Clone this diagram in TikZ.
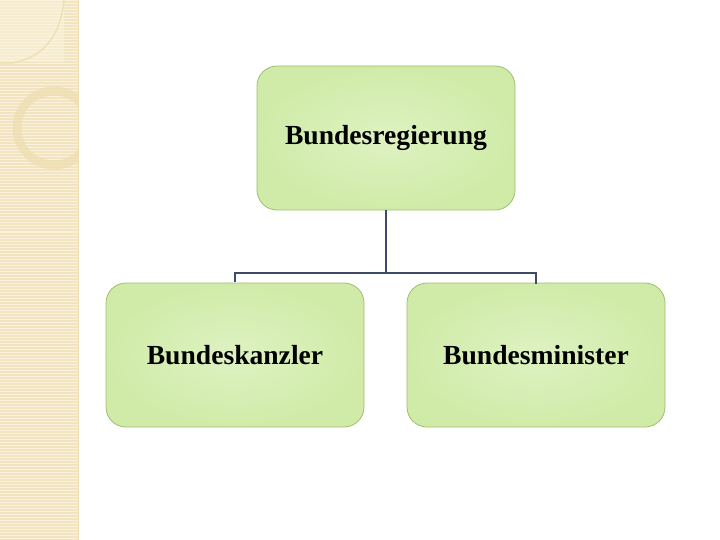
\documentclass[tikz,border=0pt]{standalone}
\usepackage{fontspec}
\setmainfont{Liberation Serif}
\usepackage{tikz}
\usetikzlibrary{positioning}
\definecolor{stripbase}{HTML}{F2E4C0}
\definecolor{stripline}{HTML}{FAF2DC}
\definecolor{stripring}{HTML}{EDDDB0}
\definecolor{boxinner}{HTML}{DEF2C2}
\definecolor{boxouter}{HTML}{D0EBA8}
\definecolor{boxframe}{HTML}{9DBF6E}
\definecolor{linkcol}{HTML}{3D4A68}

\tikzset{
  orgbox/.style={draw=boxframe,line width=0.8pt,rounded corners=20pt,
    minimum width=258pt,minimum height=144pt,inner color=boxinner,
    outer color=boxouter,font=\fontsize{27.6}{30}\selectfont\bfseries,
    text=black},
  link/.style={draw=linkcol,line width=2pt}
}

\begin{document}
\begin{tikzpicture}[x=1pt,y=-1pt]
  \useasboundingbox (0,0) rectangle (720,540);
  \fill[white] (0,0) rectangle (720,540);
  % left strip
  \fill[stripbase] (0,0) rectangle (78,540);
  \foreach \yy in {1,4,...,540}
    \draw[stripline,line width=1pt] (0,\yy) -- (78,\yy);
  \fill[stripline,opacity=0.6] (0,0) rectangle (64,62);
  \draw[stripring,line width=1.2pt] (64,0) .. controls (60,40) and (40,58) .. (12,63) -- (0,63);
  \begin{scope}
    \clip (0,0) rectangle (78,540);
    \draw[stripring,line width=9pt,opacity=0.7] (54,128) circle (37);
  \end{scope}
  \draw[stripring,line width=0.6pt] (78,0) -- (78,540);

  % boxes
  \node[orgbox] (regierung) at (386,138) {Bundesregierung};
  \node[orgbox] (kanzler) at (235,355) {Bundeskanzler};
  \node[orgbox] (minister) at (536,355) {Bundesminister};

  % connectors
  \coordinate (split) at (regierung.south |- 0,274);
  \draw[link] (regierung.south) -- (split);
  \draw[link] (kanzler.north) ++(0,-1) -- ++(0,-9) -| ([yshift=-1pt]minister.north);
\end{tikzpicture}
\end{document}
